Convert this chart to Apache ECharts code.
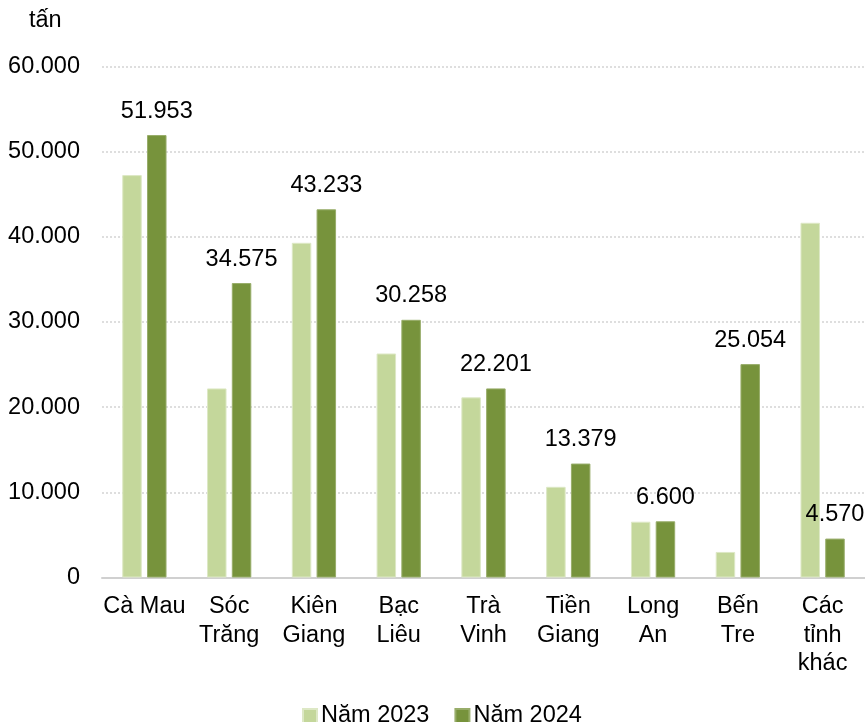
<!DOCTYPE html>
<html>
<head>
<meta charset="utf-8">
<script src="https://cdn.jsdelivr.net/npm/echarts@6/dist/echarts.min.js"></script>
<style>
  html, body { margin: 0; padding: 0; background: #fff; }
  #chart { width: 865px; height: 722px; }
</style>
</head>
<body>
<div id="chart"></div>
<script>
// Provinces (x-axis categories, wrapped as displayed)
const provinces = ['Cà Mau', 'Sóc\nTrăng', 'Kiên\nGiang', 'Bạc\nLiêu', 'Trà\nVinh', 'Tiền\nGiang', 'Long\nAn', 'Bến\nTre', 'Các\ntỉnh\nkhác'];
// Output in tonnes
const year2023 = [47250, 22200, 39300, 26300, 21150, 10650, 6550, 3000, 41650];
const year2024 = [51953, 34575, 43233, 30258, 22201, 13379, 6600, 25054, 4570];
const seriesNames = ['Năm 2023', 'Năm 2024'];
const yTicks = { min: 0, max: 60000, interval: 10000 };
const unitLabel = 'tấn';

const fontFamily = '"Liberation Sans", Arial, sans-serif';
const FS = 23.5;
const fmt = v => String(v).replace(/\B(?=(\d{3})+(?!\d))/g, '.');

const chart = echarts.init(document.getElementById('chart'), null, { renderer: 'canvas' });
chart.setOption({
  backgroundColor: '#ffffff',
  animation: false,
  textStyle: { fontFamily },
  graphic: [{
    type: 'text', left: 29, top: 9,
    style: { text: unitLabel, font: FS + 'px ' + fontFamily, fill: '#000' }
  }],
  legend: {
    top: 704,
    left: 302,
    padding: 0,
    itemWidth: 14,
    itemHeight: 14,
    itemGap: 25,
    icon: 'rect',
    textStyle: { fontSize: FS, color: '#000', fontFamily, padding: [0, 0, 0, -1] },
    data: seriesNames
  },
  grid: { left: 102, top: 66.5, width: 765, bottom: 144.5 },
  xAxis: {
    type: 'category',
    data: provinces,
    axisLine: { lineStyle: { color: '#d0d0d0', width: 2 } },
    axisTick: { show: false },
    axisLabel: { fontSize: FS, color: '#000', lineHeight: 28.5, margin: 15, interval: 0, fontFamily }
  },
  yAxis: {
    type: 'value',
    min: yTicks.min, max: yTicks.max, interval: yTicks.interval,
    axisLine: { show: false },
    axisTick: { show: false },
    splitLine: { lineStyle: { color: '#d4d4d4', type: [2, 2], width: 1.5 } },
    axisLabel: { fontSize: FS, color: '#000', margin: 22, formatter: fmt, fontFamily }
  },
  series: [
    {
      name: seriesNames[0],
      type: 'bar',
      data: year2023,
      barWidth: 19.5,
      barGap: '27%',
      itemStyle: { color: '#c4d79b', borderColor: '#dde8c5', borderWidth: 1 }
    },
    {
      name: seriesNames[1],
      type: 'bar',
      data: year2024,
      barWidth: 19.5,
      itemStyle: { color: '#77933c', borderColor: '#98ad6a', borderWidth: 1 },
      label: {
        show: true, position: 'top', distance: 12,
        fontSize: FS, color: '#000', fontFamily,
        formatter: p => fmt(p.value)
      }
    }
  ]
});
</script>
</body>
</html>
